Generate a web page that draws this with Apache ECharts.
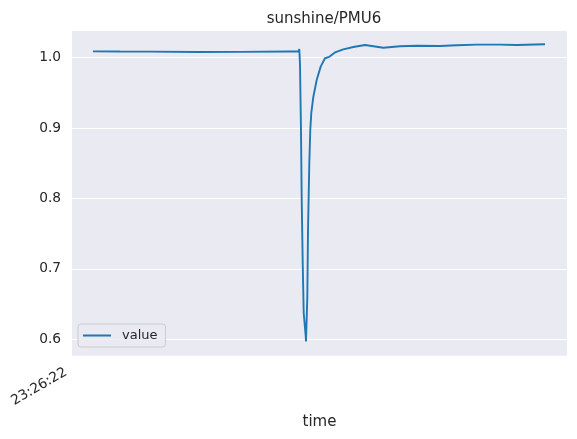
<!DOCTYPE html>
<html>
<head>
<meta charset="utf-8">
<script src="https://cdn.jsdelivr.net/npm/echarts@6/dist/echarts.min.js"></script>
<style>
  html, body { margin: 0; padding: 0; background: #fff; }
</style>
</head>
<body>
<!-- chart container -->
<div id="container" style="width: 577px;height:439px;"></div>
<script>
  // seconds after 23:26:22
  var timeSec = [
    0.424, 0.970, 1.576, 2.545, 3.394, 4.364, 4.572, 4.592,
    4.606, 4.626, 4.640, 4.661, 4.681, 4.721, 4.727,
    4.754, 4.768, 4.794, 4.814, 4.834, 4.875, 4.943, 5.024, 5.111, 5.198, 5.232, 5.313,
    5.480, 5.683, 5.919, 6.055, 6.289, 6.626, 6.964, 7.434, 7.772, 8.176, 8.646, 8.984, 9.556
  ];
  var values = [
    1.0087, 1.0085, 1.0083, 1.0078, 1.0080, 1.0086, 1.0085, 1.0120,
    0.990, 0.897, 0.802, 0.708, 0.637, 0.605, 0.597,
    0.660, 0.755, 0.850, 0.897, 0.921, 0.944, 0.968, 0.987, 0.9989, 1.0010, 1.0030, 1.0072,
    1.0116, 1.0149, 1.0177, 1.0163, 1.0139, 1.0159, 1.0167, 1.0163, 1.0173, 1.0182, 1.0182, 1.0177, 1.0187
  ];
  var tickLabel = '23:26:22';
  var seriesName = 'value';

  var points = timeSec.map(function (t, i) { return [t, values[i]]; });

  var textColor = '#262626';
  var font = 'DejaVu Sans';

  var myChart = echarts.init(document.getElementById('container'));
  myChart.setOption({
    animation: false,
    textStyle: {fontFamily: font, color: textColor},
    title: {
      text: 'sunshine/PMU6',
      left: 319,
      textAlign: 'center',
      top: 7,
      textStyle: {fontFamily: font, fontSize: 15, fontWeight: 'normal', color: textColor}
    },
    legend: {
      left: 78,
      top: 324,
      orient: 'vertical',
      padding: [5, 8, 5, 5],
      icon: 'path://M0,0L28,0L28,2L0,2Z',
      itemWidth: 28,
      itemHeight: 2,
      backgroundColor: 'rgba(234,234,242,0.8)',
      borderColor: '#cccccc',
      borderWidth: 1,
      borderRadius: 3,
      textStyle: {fontFamily: font, fontSize: 13, color: textColor, padding: [0, 0, 0, 6]},
      data: [seriesName]
    },
    grid: {
      left: 72, right: 10, top: 31, bottom: 83.3,
      outerBoundsMode: 'none',
      show: true,
      backgroundColor: '#eaeaf2',
      borderWidth: 0
    },
    xAxis: {
      type: 'value',
      min: 0,
      max: 10,
      interval: 10,
      name: 'time',
      nameLocation: 'middle',
      nameGap: 56,
      nameTextStyle: {fontFamily: font, fontSize: 15, color: textColor},
      axisLine: {show: false},
      axisTick: {show: false},
      splitLine: {show: false},
      axisLabel: {
        rotate: 30,
        margin: 12,
        padding: [0, 7, 0, 0],
        fontFamily: font,
        fontSize: 13.75,
        color: textColor,
        showMaxLabel: false,
        formatter: function (v) { return v === 0 ? tickLabel : ''; }
      }
    },
    yAxis: {
      type: 'value',
      min: 0.5767,
      max: 1.0376,
      splitNumber: 5,
      axisLine: {show: false},
      axisTick: {show: false},
      splitLine: {show: true, showMinLine: false, showMaxLine: false, lineStyle: {color: '#ffffff', width: 1.2}},
      axisLabel: {
        margin: 11,
        fontFamily: font,
        fontSize: 13.75,
        color: textColor,
        showMinLabel: false,
        showMaxLabel: false,
        formatter: function (v) { return v.toFixed(1); }
      }
    },
    series: [
      {
        name: seriesName,
        type: 'line',
        data: points,
        showSymbol: false,
        symbol: 'none',
        color: '#1f77b4',
        lineStyle: {width: 1.9, color: '#1f77b4'}
      }
    ]
  });
</script>
</body>
</html>
